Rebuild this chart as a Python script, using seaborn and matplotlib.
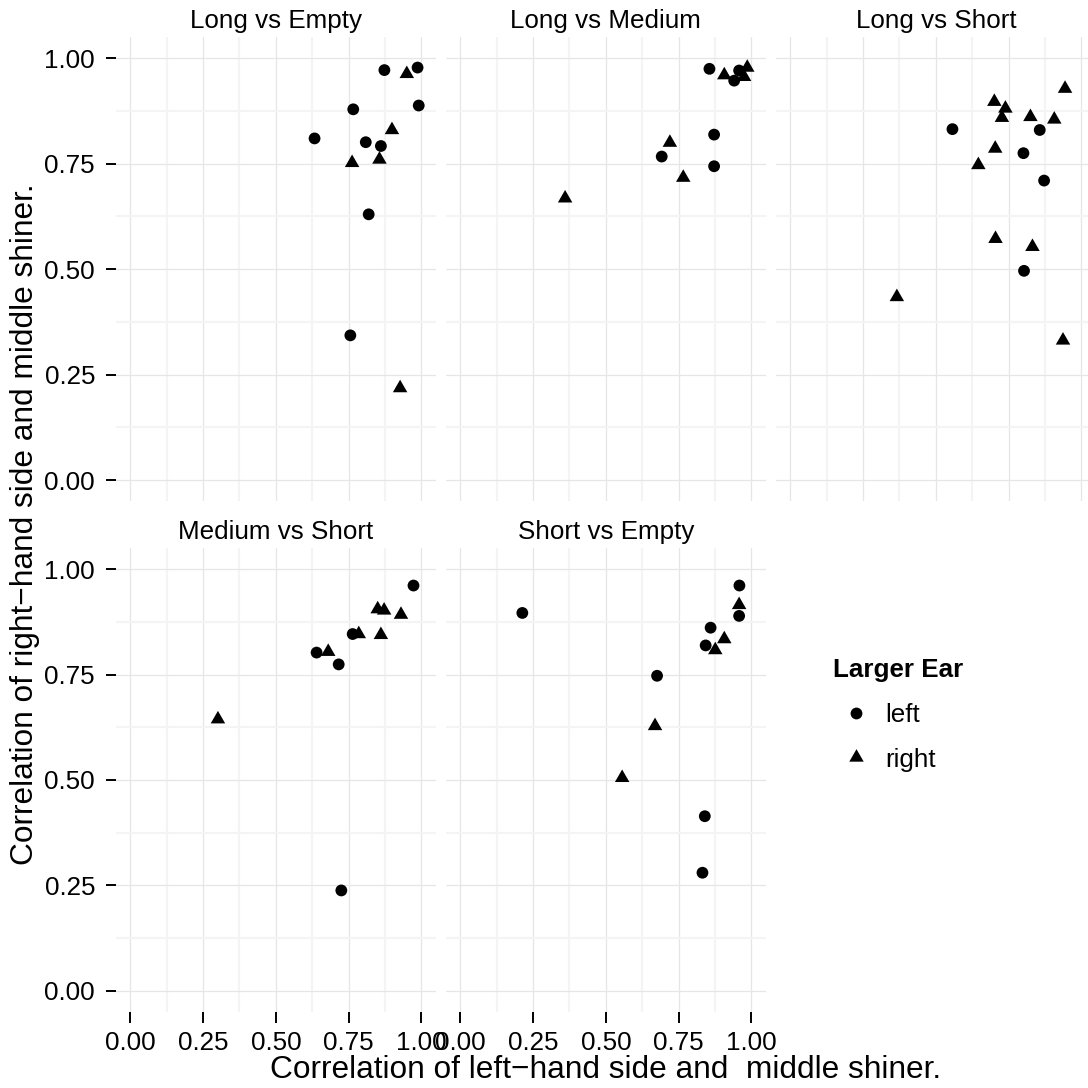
import numpy as np
import pandas as pd
import matplotlib
matplotlib.use("Agg")
import matplotlib.pyplot as plt
from matplotlib.path import Path
from matplotlib.lines import Line2D
from matplotlib.ticker import FixedLocator, FormatStrFormatter
import seaborn as sns

# ---------------- data ----------------
panel_titles = ["Long vs Empty", "Long vs Medium", "Long vs Short",
                "Medium vs Short", "Short vs Empty"]

long_empty_x = [0.950, 0.899, 0.856, 0.762, 0.927,
                0.873, 0.987, 0.991, 0.766, 0.633, 0.809, 0.861, 0.819, 0.756]
long_empty_y = [0.963, 0.830, 0.760, 0.752, 0.218,
                0.972, 0.978, 0.888, 0.879, 0.810, 0.801, 0.792, 0.630, 0.343]
long_empty_ear = ["right", "right", "right", "right", "right",
                  "left", "left", "left", "left", "left", "left", "left", "left", "left"]

long_medium_x = [0.907, 0.986, 0.975, 0.720, 0.766, 0.360,
                 0.856, 0.958, 0.941, 0.872, 0.692, 0.872]
long_medium_y = [0.960, 0.978, 0.956, 0.800, 0.717, 0.668,
                 0.975, 0.971, 0.947, 0.819, 0.767, 0.744]
long_medium_ear = ["right", "right", "right", "right", "right", "right",
                   "left", "left", "left", "left", "left", "left"]

long_short_x = [0.944, 0.701, 0.739, 0.727, 0.825, 0.907, 0.704, 0.646, 0.705, 0.832, 0.366, 0.937,
                0.557, 0.857, 0.801, 0.872, 0.803]
long_short_y = [0.928, 0.897, 0.881, 0.859, 0.861, 0.855, 0.786, 0.747, 0.572, 0.553, 0.434, 0.331,
                0.832, 0.830, 0.775, 0.710, 0.496]
long_short_ear = ["right", "right", "right", "right", "right", "right",
                  "right", "right", "right", "right", "right", "right",
                  "left", "left", "left", "left", "left"]

medium_short_x = [0.850, 0.872, 0.930, 0.785, 0.861, 0.680, 0.301,
                  0.973, 0.764, 0.640, 0.716, 0.725]
medium_short_y = [0.905, 0.902, 0.892, 0.846, 0.844, 0.804, 0.644,
                  0.961, 0.846, 0.802, 0.774, 0.238]
medium_short_ear = ["right", "right", "right", "right", "right", "right", "right",
                    "left", "left", "left", "left", "left"]

short_empty_x = [0.958, 0.907, 0.876, 0.669, 0.556,
                 0.959, 0.958, 0.213, 0.860, 0.843, 0.676, 0.840, 0.832]
short_empty_y = [0.915, 0.834, 0.808, 0.628, 0.505,
                 0.961, 0.889, 0.896, 0.861, 0.819, 0.747, 0.414, 0.280]
short_empty_ear = ["right", "right", "right", "right", "right",
                   "left", "left", "left", "left", "left", "left", "left", "left"]

ear_levels = ["left", "right"]
major_ticks = [0.00, 0.25, 0.50, 0.75, 1.00]
minor_ticks = [0.125, 0.375, 0.625, 0.875]

x_title = "Correlation of left\u2212hand side and  middle shiner."
y_title = "Correlation of right\u2212hand side and middle shiner."
legend_title = "Larger Ear"

# ---------------- style ----------------
sns.set_style("white")
plt.rcParams["font.family"] = ["Liberation Sans", "DejaVu Sans"]
plt.rcParams["text.color"] = "black"
plt.rcParams["xtick.color"] = "black"
plt.rcParams["ytick.color"] = "black"
plt.rcParams["axes.labelcolor"] = "black"

W = H = 1088
fig = plt.figure(figsize=(W / 100, H / 100), dpi=100)

# R-like triangle (pch 17), centred on its centroid
TRI = Path([(0.0, 1.5551), (1.3468, -0.7776), (-1.3468, -0.7776), (0.0, 1.5551)],
           [Path.MOVETO, Path.LINETO, Path.LINETO, Path.CLOSEPOLY])
marker_map = {"left": "o", "right": TRI}
size_map = {"left": 72, "right": 145}

panel_data = [
    (long_empty_x, long_empty_y, long_empty_ear),
    (long_medium_x, long_medium_y, long_medium_ear),
    (long_short_x, long_short_y, long_short_ear),
    (medium_short_x, medium_short_y, medium_short_ear),
    (short_empty_x, short_empty_y, short_empty_ear),
]

lefts = [115.8, 445.8, 775.8]
tops = [37.2, 548.0]
pw, ph = 320.1, 463.9
FS = 18.7
TFS = 22.8

def add_px_axes(l, t, w, h):
    return fig.add_axes([l / W, 1 - (t + h) / H, w / W, h / H])

for i, ((xs, ys, ears), title) in enumerate(zip(panel_data, panel_titles)):
    r, c = divmod(i, 3)
    ax = add_px_axes(lefts[c], tops[r], pw, ph)
    df = pd.DataFrame({"x": xs, "y": ys, "ear": ears})
    sns.scatterplot(data=df, x="x", y="y", style="ear", size="ear",
                    style_order=ear_levels, size_order=ear_levels,
                    markers=marker_map, sizes=size_map, color="black",
                    linewidth=0, edgecolor="none", legend=False, ax=ax,
                    clip_on=False, zorder=3)
    ax.set_xlim(-0.05, 1.05)
    ax.set_ylim(-0.05, 1.05)
    ax.set_xlabel("")
    ax.set_ylabel("")
    for s in ax.spines.values():
        s.set_visible(False)
    ax.xaxis.set_major_locator(FixedLocator(major_ticks))
    ax.yaxis.set_major_locator(FixedLocator(major_ticks))
    ax.xaxis.set_minor_locator(FixedLocator(minor_ticks))
    ax.yaxis.set_minor_locator(FixedLocator(minor_ticks))
    ax.xaxis.set_major_formatter(FormatStrFormatter("%.2f"))
    ax.yaxis.set_major_formatter(FormatStrFormatter("%.2f"))
    ax.set_axisbelow(True)
    ax.grid(which="minor", color="#F4F4F4", lw=1.5)
    ax.grid(which="major", color="#E6E6E6", lw=0.9)
    ax.tick_params(which="minor", length=0)
    ax.tick_params(axis="y", which="major", length=7.2, width=1.4, color="black",
                   pad=7.7, labelsize=FS, labelcolor="black",
                   left=(c == 0), labelleft=(c == 0))
    ax.tick_params(axis="x", which="major", length=7.9, width=1.4, color="black",
                   pad=5.5, labelsize=FS, labelcolor="black",
                   bottom=(r == 1), labelbottom=(r == 1))
    fig.text((lefts[c] + pw / 2) / W, 1 - (28.3 + 511.0 * r) / H, title,
             ha="center", va="baseline", fontsize=FS, color="black")

panels_cx = (lefts[0] + lefts[2] + pw) / 2
panels_cy = (tops[0] + tops[1] + ph) / 2
fig.text(panels_cx / W, 1 - 1078 / H, x_title, ha="center", va="baseline",
         fontsize=TFS, color="black")
fig.text(25 / W, 1 - panels_cy / H, y_title, ha="center", va="center",
         rotation=90, fontsize=TFS, color="black")

handles = [Line2D([], [], marker="o", color="black", linestyle="", markersize=8.5,
                  markeredgewidth=0),
           Line2D([], [], marker=TRI, color="black", linestyle="", markersize=12.0,
                  markeredgewidth=0)]
leg = fig.legend(handles, ear_levels, title=legend_title, loc="upper left",
                 bbox_to_anchor=(833 / W, 1 - 658 / H), frameon=False, fontsize=FS,
                 title_fontproperties={"weight": "bold", "size": FS}, alignment="left",
                 handlelength=1.77, handletextpad=0.25, labelspacing=0.8,
                 borderpad=0, borderaxespad=0, labelcolor="black")

fig.savefig("out.png", dpi=100)
